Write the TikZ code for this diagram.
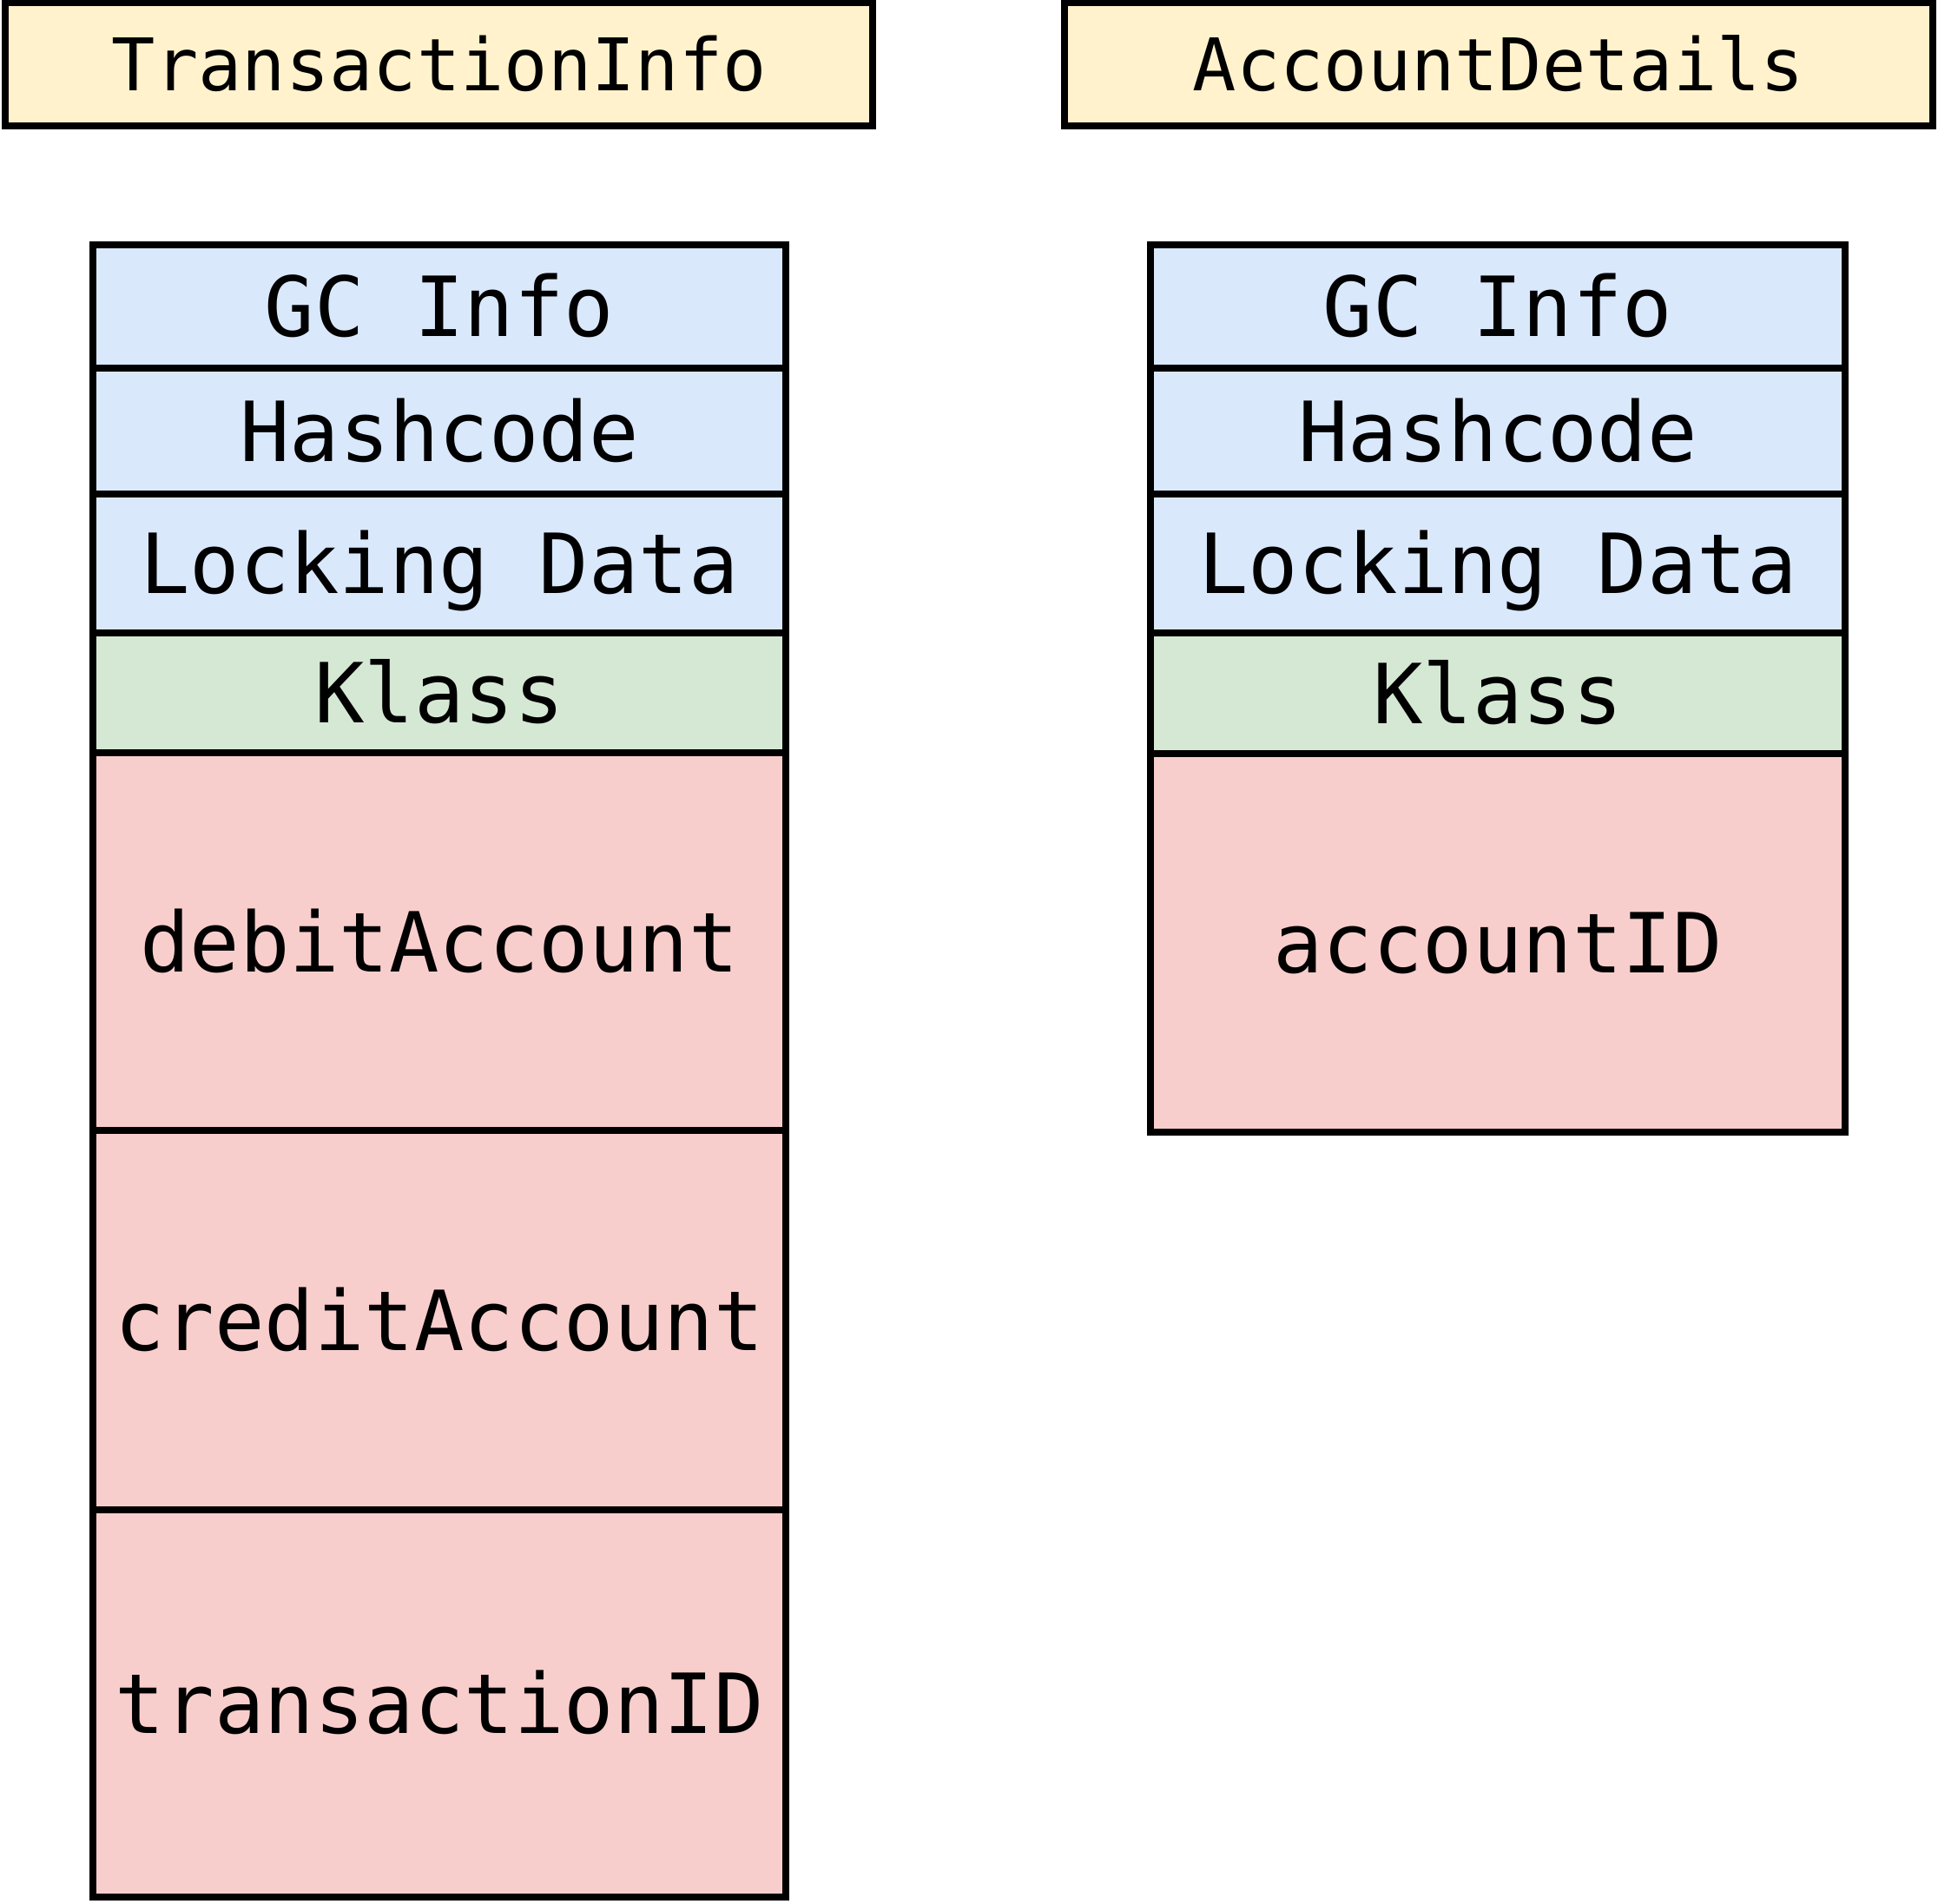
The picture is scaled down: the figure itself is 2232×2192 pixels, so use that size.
\documentclass[tikz,border=0pt]{standalone}
\usepackage{fontspec}
\setmonofont{DejaVu Sans Mono}
\definecolor{titlefill}{HTML}{FFF2CC}
\definecolor{bluefill}{HTML}{DAE8FC}
\definecolor{greenfill}{HTML}{D5E8D4}
\definecolor{redfill}{HTML}{F8CECC}
\tikzset{
  cell/.style={draw=black, line width=4pt, rectangle, inner sep=0pt, outer sep=0pt,
    font=\ttfamily\fontsize{47.75}{50}\selectfont, text height=34.8pt, text depth=0pt},
  titlebox/.style={cell, fill=titlefill, font=\ttfamily\fontsize{41.8}{44}\selectfont, text height=30.5pt},
  hdr/.style={cell, fill=bluefill},
  klass/.style={cell, fill=greenfill},
  field/.style={cell, fill=redfill},
}
\begin{document}
\begin{tikzpicture}[x=0.5pt, y=-0.5pt]
\useasboundingbox (0,0) rectangle (2232,2192);
% titles
\node[titlebox, minimum width=999*0.5pt, minimum height=142*0.5pt] (t1) at (505.5,74) {TransactionInfo};
\node[titlebox, minimum width=1000*0.5pt, minimum height=142*0.5pt] (t2) at (1726,74) {AccountDetails};
% left stack
\node[hdr, minimum width=798*0.5pt, minimum height=142*0.5pt] (lgc) at (506,353) {GC Info};
\node[hdr, minimum width=798*0.5pt, minimum height=145*0.5pt] (lhash) at (506,496.5) {Hashcode};
\node[hdr, minimum width=798*0.5pt, minimum height=160*0.5pt] (llock) at (506,649) {Locking Data};
\node[klass, minimum width=798*0.5pt, minimum height=138*0.5pt] (lklass) at (506,798) {Klass};
\node[field, minimum width=798*0.5pt, minimum height=435*0.5pt] (ldebit) at (506,1084.5) {debitAccount};
\node[field, minimum width=798*0.5pt, minimum height=437*0.5pt] (lcredit) at (506,1520.5) {creditAccount};
\node[field, minimum width=798*0.5pt, minimum height=446*0.5pt] (ltrans) at (506,1962) {transactionID};
% right stack
\node[hdr, minimum width=800*0.5pt, minimum height=142*0.5pt] (rgc) at (1725,353) {GC Info};
\node[hdr, minimum width=800*0.5pt, minimum height=145*0.5pt] (rhash) at (1725,496.5) {Hashcode};
\node[hdr, minimum width=800*0.5pt, minimum height=160*0.5pt] (rlock) at (1725,649) {Locking Data};
\node[klass, minimum width=800*0.5pt, minimum height=139*0.5pt] (rklass) at (1725,798.5) {Klass};
\node[field, minimum width=800*0.5pt, minimum height=436*0.5pt] (racc) at (1725,1086) {accountID};
\end{tikzpicture}
\end{document}
